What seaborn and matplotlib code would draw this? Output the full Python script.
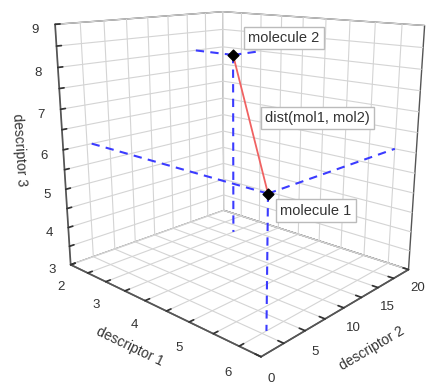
import numpy as np
import matplotlib
matplotlib.use("Agg")
import matplotlib.pyplot as plt
import seaborn as sns
from mpl_toolkits.mplot3d import proj3d

# molecule coordinates in descriptor space
mol_names = ["molecule 1", "molecule 2"]
desc1 = [6.0, 3.0]
desc2 = [3.0, 16.0]
desc3 = [6.0, 8.0]
dist_label = "dist(mol1, mol2)"

x_lim = (2, 6.4)
y_lim = (0, 20)
z_lim = (3, 9)
x_labels = [2, 3, 4, 5, 6]
y_labels = [0, 5, 10, 15, 20]
z_labels = [3, 4, 5, 6, 7, 8, 9]

sns.set_theme(style="white")
plt.rcParams["font.family"] = ["Liberation Sans", "DejaVu Sans"]
plt.rcParams["grid.color"] = "#d4d4d4"
plt.rcParams["grid.linewidth"] = 0.8

fig = plt.figure(figsize=(4.44, 3.82), dpi=100)
ax = fig.add_axes([0.025, 0.09, 1.0, 1.0], projection="3d")
ax.computed_zorder = False
ax.view_init(elev=15, azim=-47)
ax.set_proj_type("persp", focal_length=0.35)
ax.set_box_aspect((1.15, 1, 1.08), zoom=1.1)

# dashed projection lines
for x, y, z in zip(desc1, desc2, desc3):
    ax.plot([x, x], [y, y], [z, z_lim[0]], color="#3b3bff", lw=1.5, dashes=(4, 3), zorder=2)
    ax.plot([x, x_lim[0]], [y, y], [z, z], color="#3b3bff", lw=1.5, dashes=(4, 3), zorder=2)
    ax.plot([x, x], [y, y_lim[1]], [z, z], color="#3b3bff", lw=1.5, dashes=(4, 3), zorder=2)

ax.plot(desc1, desc2, desc3, color="#f06262", lw=1.3, zorder=3)
ax.scatter(desc1, desc2, desc3, marker="D", s=30, color="black", depthshade=False, zorder=4)

ax.set_xlim(*x_lim)
ax.set_ylim(*y_lim)
ax.set_zlim(*z_lim)


def half_ticks(lim, labels, step):
    locs = np.arange(lim[0], lim[1] + 1e-9, step)
    txt = [str(int(v)) if any(abs(v - l) < 1e-9 for l in labels) else "" for v in locs]
    return locs, txt


for axis, lim, labels, step in [(ax.xaxis, x_lim, x_labels, 0.5),
                                 (ax.yaxis, y_lim, y_labels, 2.5),
                                 (ax.zaxis, z_lim, z_labels, 0.5)]:
    locs, txt = half_ticks(lim, labels, step)
    axis.set_ticks(locs)
    axis.set_ticklabels(txt)
    axis.set_pane_color((1, 1, 1, 1))
    axis.pane.set_edgecolor("#555555")
    axis.line.set_color("#555555")
    axis._axinfo["tick"]["inward_factor"] = 0.0
    axis._axinfo["tick"]["outward_factor"] = 0.3
    axis._axinfo["tick"]["color"] = "#555555"

ax.zaxis.set_ticks_position("lower")
ax.zaxis.set_label_position("lower")

ax.tick_params(labelsize=9.5, colors="#333333", pad=0)
ax.yaxis.set_tick_params(pad=-2)
ax.set_xlabel("descriptor 1", fontsize=10, color="#333333", labelpad=-3)
ax.set_ylabel("descriptor 2", fontsize=10, color="#333333", labelpad=-4)
ax.set_zlabel("descriptor 3", fontsize=10, color="#333333", labelpad=-3)

# labels next to the molecules and the distance line
fig.canvas.draw()
proj = ax.get_proj()
box = dict(boxstyle="square,pad=0.3", fc="white", ec="#bbbbbb", lw=1)


def screen_xy(x, y, z):
    px, py, _ = proj3d.proj_transform(x, y, z, proj)
    return px, py


offsets = [(12, -17), (15, 17)]
for name, x, y, z, off in zip(mol_names, desc1, desc2, desc3, offsets):
    ax.annotate(name, xy=screen_xy(x, y, z), xytext=off, textcoords="offset pixels",
                ha="left", va="center", fontsize=10.5, color="#333333", bbox=box, zorder=5)

mx, my = screen_xy(np.mean(desc1), np.mean(desc2), np.mean(desc3))
ax.annotate(dist_label, xy=(mx, my), xytext=(17, -4), textcoords="offset pixels",
            ha="left", va="center", fontsize=10.5, color="#333333", bbox=box, zorder=5)

fig.savefig("out.png", dpi=100)
